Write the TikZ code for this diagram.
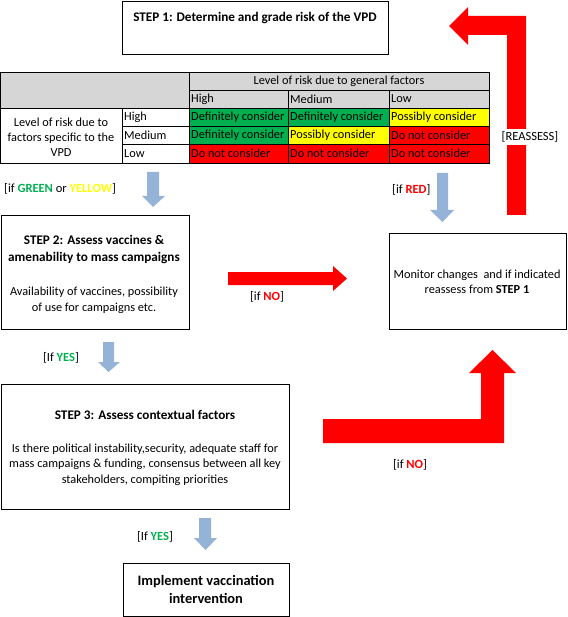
\documentclass[tikz,border=0pt]{standalone}
\usepackage{fontspec}
\setmainfont{Carlito}
\definecolor{xgreen}{HTML}{00B050}
\definecolor{xyellow}{HTML}{FFFF00}
\definecolor{xred}{HTML}{FF0000}
\definecolor{xgray}{HTML}{D6D6D6}
\definecolor{xblue}{HTML}{95B3D7}
\tikzset{
  box/.style={draw=black, line width=1.1pt, anchor=north west, inner sep=0pt},
  ttl/.style={font=\fontsize{13.2}{16}\selectfont\bfseries},
  bodyt/.style={font=\fontsize{12.3}{15.5}\selectfont, align=center},
  cell/.style={anchor=west, inner sep=0pt, font=\fontsize{12.3}{15}\selectfont},
  lbl/.style={inner sep=0pt, font=\fontsize{12.5}{15}\selectfont},
  redarrow/.style={fill=xred, draw=none},
  bluearrow/.style={fill=xblue, draw=none},
  grid/.style={draw=black, line width=0.7pt}
}
\begin{document}
\begin{tikzpicture}[x=1pt,y=-1pt]
\useasboundingbox (0,0) rectangle (567,617);
% ---------- boxes
\node[box, minimum width=266pt, minimum height=53pt] (s1) at (122,0.6) {};
\node[ttl] (s1t) at (255,18) {STEP 1: Determine and grade risk of the VPD};

\node[box, minimum width=188pt, minimum height=114pt] (s2) at (0.6,215) {};
\node[ttl] (s2a) at (94,240) {STEP 2: Assess vaccines \&};
\node[ttl] (s2b) at (94,258) {amenability to mass campaigns};
\node[bodyt] (s2c) at (94,300.5) {Availability of vaccines, possibility\\of use for campaigns etc.};

\node[box, minimum width=177pt, minimum height=96pt] (mo) at (389,233) {};
\node[bodyt] (mot) at (477,282) {Monitor changes \ and if indicated\\reassess from \textbf{STEP 1}};

\node[box, minimum width=288pt, minimum height=125pt] (s3) at (0.6,384) {};
\node[ttl] (s3t) at (145,415) {STEP 3: Assess contextual factors};
\node[bodyt] (s3b) at (145,464.5) {Is there political instability,security, adequate staff for\\mass campaigns \& funding, consensus between all key\\stakeholders, compiting priorities};

\node[box, minimum width=166pt, minimum height=53.2pt] (im) at (123,562.6) {};
\node[font=\fontsize{14.4}{18}\selectfont\bfseries, align=center] (imt) at (206,589.5) {Implement vaccination\\intervention};

% ---------- table
\fill[xgray] (0,72) rectangle (489,108);
\fill[xgreen] (189,108) rectangle (389,126);
\fill[xgreen] (189,126) rectangle (288,144);
\fill[xyellow] (389,108) rectangle (489,126);
\fill[xyellow] (288,126) rectangle (389,144);
\fill[xred] (389,126) rectangle (489,144);
\fill[xred] (189,144) rectangle (489,163);
\draw[grid] (0,72) rectangle (489,163);
\draw[grid] (189,90) -- (489,90);
\draw[grid] (0,108) -- (489,108);
\draw[grid] (122,126) -- (489,126);
\draw[grid] (122,144) -- (489,144);
\draw[grid] (189,72) -- (189,163);
\draw[grid] (288,90) -- (288,163);
\draw[grid] (389,90) -- (389,163);
\draw[grid] (122,108) -- (122,163);

\node[lbl, font=\fontsize{12.3}{15}\selectfont] (th) at (339,81) {Level of risk due to general factors};
\node[cell] (h1) at (191,99) {High};
\node[cell] (h2) at (290,99) {Medium};
\node[cell] (h3) at (391,99) {Low};
\node[cell] (r1) at (124,117) {High};
\node[cell] (r2) at (124,135) {Medium};
\node[cell] (r3) at (124,153.5) {Low};
\node[font=\fontsize{12.3}{15.2}\selectfont, align=center, inner sep=0pt] (rl) at (61,137.5) {Level of risk due to\\factors specific to the\\VPD};
\node[cell] (c11) at (191,117) {Definitely consider};
\node[cell] (c12) at (290,117) {Definitely consider};
\node[cell] (c13) at (391,117) {Possibly consider};
\node[cell] (c21) at (191,135) {Definitely consider};
\node[cell] (c22) at (290,135) {Possibly consider};
\node[cell] (c23) at (391,135) {Do not consider};
\node[cell] (c31) at (191,153.5) {Do not consider};
\node[cell] (c32) at (290,153.5) {Do not consider};
\node[cell] (c33) at (391,153.5) {Do not consider};

% ---------- red arrows
\fill[redarrow] (507,215) -- (507,35) -- (468,35) -- (468,45) -- (449,26) -- (468,7) -- (468,16) -- (526,16) -- (526,215) -- cycle;
\node[lbl, fill=white, inner xsep=1pt, inner ysep=3pt] (rea) at (530,137) {[REASSESS]};

\fill[redarrow] (228,272) -- (333,272) -- (333,266) -- (347,278.5) -- (333,291) -- (333,285) -- (228,285) -- cycle;
\node[lbl] (no1) at (267,297) {[if \textcolor{xred}{\textbf{NO}}]};

\fill[redarrow] (323,419) -- (481,419) -- (481,373) -- (469,373) -- (492.5,350) -- (516,373) -- (504,373) -- (504,443) -- (323,443) -- cycle;
\node[lbl] (no2) at (410,465) {[if \textcolor{xred}{\textbf{NO}}]};

% ---------- blue arrows
\fill[bluearrow] (147,172) -- (159,172) -- (159,196) -- (165,196) -- (153,207) -- (142,196) -- (147,196) -- cycle;
\node[lbl, anchor=west] (gy) at (4,189) {[if \textcolor{xgreen}{\textbf{GREEN}} or \textcolor{xyellow}{\textbf{YELLOW}}]};

\fill[bluearrow] (437,173) -- (448,173) -- (448,210) -- (454,210) -- (442.5,222) -- (430,210) -- (437,210) -- cycle;
\node[lbl, anchor=west] (ifr) at (392,190) {[if \textcolor{xred}{\textbf{RED}}]};

\fill[bluearrow] (103,342) -- (114,342) -- (114,362) -- (120,362) -- (108.5,372) -- (98,362) -- (103,362) -- cycle;
\node[lbl] (y1) at (61,358) {[If \textcolor{xgreen}{\textbf{YES}}]};

\fill[bluearrow] (199,518) -- (211,518) -- (211,538) -- (217,538) -- (205.5,550) -- (194,538) -- (199,538) -- cycle;
\node[lbl] (y2) at (155,537) {[If \textcolor{xgreen}{\textbf{YES}}]};
\end{tikzpicture}
\end{document}
